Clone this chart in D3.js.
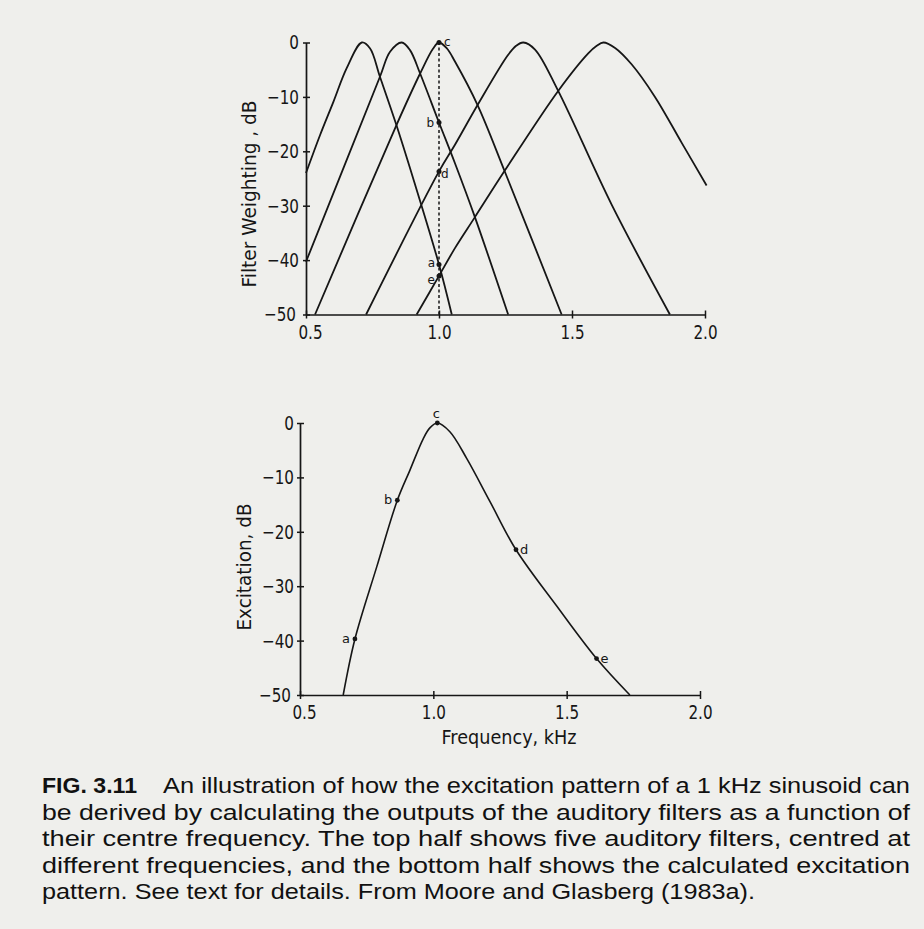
<!DOCTYPE html>
<html><head><meta charset="utf-8">
<script src="https://cdn.jsdelivr.net/npm/d3@7"></script>
<style>
body{margin:0;background:#efefec;}
svg{display:block}
</style></head><body>
<svg id="c" width="924" height="929"></svg>
<script>
// ---------- data ----------
const xTicks = [0.5, 1.0, 1.5, 2.0];
const yTicks = [0, -10, -20, -30, -40, -50];

// Top panel: five auditory filters (frequency kHz, weighting dB)
const filter1 = [[0.5,-24.0],[0.553,-17.0],[0.603,-10.9],[0.653,-4.7],[0.71,0],[0.741,-1.1],[0.778,-6.3],[0.838,-14.9],[0.903,-25.0],[1.0,-40.8],[1.048,-50]];
const filter2 = [[0.5,-40.3],[0.778,-6.3],[0.816,-1.7],[0.86,0],[0.891,-1.4],[0.929,-5.7],[1.0,-14.7],[1.06,-22.2],[1.135,-32.1],[1.26,-50]];
const filter3 = [[0.534,-50],[0.838,-15.4],[0.929,-5.7],[0.978,-1.1],[1.0,0],[1.03,-1.1],[1.06,-3.5],[1.145,-11.5],[1.248,-23.8],[1.461,-50]];
const filter4 = [[0.726,-50],[1.0,-23.7],[1.06,-18.8],[1.145,-11.5],[1.258,-2.4],[1.29,-0.6],[1.317,0],[1.361,-1.3],[1.448,-8.9],[1.649,-29.8],[1.868,-50]];
const filter5 = [[0.916,-50],[1.0,-42.9],[1.06,-37.8],[1.135,-32.1],[1.248,-23.5],[1.448,-8.9],[1.561,-2.0],[1.593,-0.6],[1.618,0],[1.662,-1.0],[1.724,-4.0],[1.812,-10.0],[1.912,-18.4],[2.006,-26.3]];
const filters = [filter1, filter2, filter3, filter4, filter5];

// Outputs of the filters at 1 kHz (labelled points on the dashed line)
const topPoints = [
  {label:"c", f:1.0, db:0},
  {label:"b", f:1.0, db:-14.7},
  {label:"d", f:1.0, db:-23.7},
  {label:"a", f:1.0, db:-40.8},
  {label:"e", f:1.0, db:-42.9}
];

// Bottom panel: excitation pattern (frequency kHz, excitation dB)
const excitation = [[0.662,-50],[0.706,-39.7],[0.788,-26.4],[0.865,-14.2],[0.912,-8.7],[0.962,-2.9],[0.987,-0.9],[1.015,0],[1.062,-1.6],[1.125,-6.5],[1.212,-14.4],[1.31,-23.3],[1.462,-33.6],[1.612,-43.3],[1.737,-50]];
const bottomPoints = [
  {label:"a", f:0.706, db:-39.7},
  {label:"b", f:0.865, db:-14.2},
  {label:"c", f:1.015, db:0},
  {label:"d", f:1.31, db:-23.3},
  {label:"e", f:1.612, db:-43.3}
];

const captionHead = "FIG. 3.11";
const captionFirst = "An illustration of how the excitation pattern of a 1 kHz sinusoid can";
const captionLines = [
  "be derived by calculating the outputs of the auditory filters as a function of",
  "their centre frequency. The top half shows five auditory filters, centred at",
  "different frequencies, and the bottom half shows the calculated excitation",
  "pattern. See text for details. From Moore and Glasberg (1983a)."
];

// ---------- drawing ----------
const ink = "#161616";
const tickFont = "'DejaVu Sans',sans-serif";
const svg = d3.select("#c");

function condense(sel, k){
  sel.each(function(){
    const w = this.getComputedTextLength();
    d3.select(this).attr("textLength", w*k).attr("lengthAdjust","spacingAndGlyphs");
  });
}

function panel(cfg){
  const g = svg.append("g");
  const x = d3.scaleLinear().domain([0.5,2.0]).range([cfg.x0, cfg.x1]);
  const y = d3.scaleLinear().domain([-50,0]).range([cfg.y0, cfg.y1]);

  const xa = g.append("g").attr("transform",`translate(0,${cfg.y0})`)
    .call(d3.axisBottom(x).tickValues(xTicks).tickFormat(d3.format(".1f")).tickSize(4).tickSizeOuter(0).tickPadding(4));
  xa.selectAll(".tick line").attr("y1",-4).attr("y2",4);
  const ya = g.append("g").attr("transform",`translate(${cfg.x0},0)`)
    .call(d3.axisLeft(y).tickValues(yTicks).tickFormat(d => d===0 ? "0" : d3.format("")(d)).tickSize(4).tickSizeOuter(0).tickPadding(cfg.pad));
  ya.selectAll(".tick line").attr("x1",4).attr("x2",-3);
  [xa, ya].forEach(a => {
    a.select(".domain").attr("stroke",ink).attr("stroke-width",1.7);
    a.selectAll(".tick line").attr("stroke",ink).attr("stroke-width",1.5);
    a.selectAll("text").attr("fill",ink).style("font-family",tickFont).style("font-size","20px");
    condense(a.selectAll("text"), 0.76);
  });
  xa.selectAll("text").attr("dy","0.8em");
  // keep the corner labels ("0.5" and "-50") clear of each other
  xa.selectAll(".tick").filter(d => d === 0.5).select("text").attr("dx", 4);
  ya.selectAll(".tick").filter(d => d === -50).select("text").attr("dx", -3);
  return {g,x,y};
}

const curve = d3.curveCatmullRom.alpha(0.5);

// top panel
const topP = panel({x0:306, x1:705, y0:314.5, y1:42.5, pad:3});
const line = d3.line().x(d=>topP.x(d[0])).y(d=>topP.y(d[1])).curve(curve);
topP.g.selectAll("path.filter").data(filters).join("path").attr("class","filter")
  .attr("d", line).attr("fill","none").attr("stroke",ink).attr("stroke-width",1.8);
topP.g.append("line")
  .attr("x1",topP.x(1.0)).attr("x2",topP.x(1.0)).attr("y1",topP.y(-50)).attr("y2",topP.y(0))
  .attr("stroke",ink).attr("stroke-width",1.5).attr("stroke-dasharray","3,2.5");
topP.g.selectAll("circle.pt").data(topPoints).join("circle").attr("class","pt")
  .attr("cx",d=>topP.x(d.f)).attr("cy",d=>topP.y(d.db)).attr("r",2.5).attr("fill",ink);
const topLabelPos = {c:[5,3,"start"], b:[-5,5,"end"], d:[2,7,"start"], a:[-4,3,"end"], e:[-4,8,"end"]};
topP.g.selectAll("text.pl").data(topPoints).join("text").attr("class","pl")
  .attr("x",d=>topP.x(d.f)+topLabelPos[d.label][0]).attr("y",d=>topP.y(d.db)+topLabelPos[d.label][1])
  .attr("text-anchor",d=>topLabelPos[d.label][2])
  .style("font-family",tickFont).style("font-size","12px").attr("fill",ink).text(d=>d.label);
svg.append("text").attr("transform","translate(256,194) rotate(-90)")
  .attr("text-anchor","middle").attr("textLength",187).attr("lengthAdjust","spacingAndGlyphs")
  .style("font-family",tickFont).style("font-size","20px").attr("fill",ink).text("Filter Weighting , dB");

// bottom panel
const bot = panel({x0:300, x1:700, y0:695, y1:423, pad:2});
const line2 = d3.line().x(d=>bot.x(d[0])).y(d=>bot.y(d[1])).curve(curve);
bot.g.append("path").datum(excitation).attr("d",line2).attr("fill","none").attr("stroke",ink).attr("stroke-width",1.6);
bot.g.selectAll("circle.pt").data(bottomPoints).join("circle").attr("class","pt")
  .attr("cx",d=>bot.x(d.f)).attr("cy",d=>bot.y(d.db)).attr("r",2.4).attr("fill",ink);
const botLabelPos = {a:[-5,4,"end"], b:[-5,4,"end"], c:[-1,-5,"middle"], d:[4,4,"start"], e:[4,4,"start"]};
bot.g.selectAll("text.pl").data(bottomPoints).join("text").attr("class","pl")
  .attr("x",d=>bot.x(d.f)+botLabelPos[d.label][0]).attr("y",d=>bot.y(d.db)+botLabelPos[d.label][1])
  .attr("text-anchor",d=>botLabelPos[d.label][2])
  .style("font-family",tickFont).style("font-size","13px").attr("fill",ink).text(d=>d.label);
svg.append("text").attr("transform","translate(251,567) rotate(-90)")
  .attr("text-anchor","middle").attr("textLength",127).attr("lengthAdjust","spacingAndGlyphs")
  .style("font-family",tickFont).style("font-size","20px").attr("fill",ink).text("Excitation, dB");
svg.append("text").attr("x",509).attr("y",744)
  .attr("text-anchor","middle").attr("textLength",135).attr("lengthAdjust","spacingAndGlyphs")
  .style("font-family",tickFont).style("font-size","20px").attr("fill",ink).text("Frequency, kHz");

// caption
const capFont = "'Liberation Sans','Arial',sans-serif";
const capSize = "22px";
svg.append("text").attr("x",42).attr("y",793).attr("textLength",95).attr("lengthAdjust","spacingAndGlyphs")
  .style("font-family",capFont).style("font-size",capSize).style("font-weight","bold").attr("fill","#111").text(captionHead);
svg.append("text").attr("x",163).attr("y",793).attr("textLength",747).attr("lengthAdjust","spacingAndGlyphs")
  .style("font-family",capFont).style("font-size",capSize).attr("fill","#111").text(captionFirst);
const capLens = [868, 868, 868, 713];
svg.selectAll("text.cap").data(captionLines).join("text").attr("class","cap")
  .attr("x",42).attr("y",(d,i)=>819.5+i*26.5)
  .attr("textLength",(d,i)=>capLens[i]).attr("lengthAdjust","spacingAndGlyphs")
  .style("font-family",capFont).style("font-size",capSize).attr("fill","#111").text(d=>d);
</script>
</body></html>
